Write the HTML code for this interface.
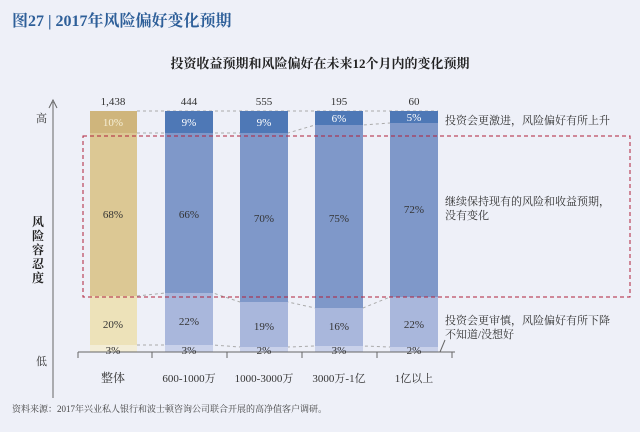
<!DOCTYPE html>
<html><head><meta charset="utf-8"><style>
body{margin:0;width:640px;height:427px;background:#eef0f8;overflow:hidden}
text{font-family:"Liberation Serif","Noto Serif CJK SC",serif}
</style></head><body>
<svg width="640" height="427" xmlns="http://www.w3.org/2000/svg">
<rect width="640" height="427" fill="#eef0f8"/>
<text x="12" y="26" font-size="16" fill="#2e5f99" font-weight="bold">图27 | 2017年风险偏好变化预期</text>
<text x="320" y="68" font-size="13" text-anchor="middle" fill="#222" font-weight="bold">投资收益预期和风险偏好在未来12个月内的变化预期</text>
<!-- dashed connectors -->
<g stroke="#aaa" stroke-dasharray="3,3" fill="none" stroke-width="1">
<polyline points="137,111 438,111"/>
<polyline points="137,133 165,133 213,133 240,133 288,133 315,125 363,125 390,123"/>
<polyline points="137,296 165,293 213,293 240,302 288,302 315,308 363,308 390,297"/>
<polyline points="137,345 165,345 213,345 240,347 288,347 315,346 363,346 390,347"/>
</g>
<!-- bar1 -->
<rect x="90" y="111" width="47" height="22" fill="#cfb57c"/>
<rect x="90" y="133" width="47" height="163" fill="#dcc894"/>
<rect x="90" y="296" width="47" height="49" fill="#ede2b9"/>
<rect x="90" y="345" width="47" height="7" fill="#f3edd6"/>
<!-- bars blue -->
<g>
<rect x="165" y="111" width="48" height="22" fill="#4e78b6"/>
<rect x="165" y="133" width="48" height="160" fill="#7f98c9"/>
<rect x="165" y="293" width="48" height="52" fill="#a9b7dc"/>
<rect x="165" y="345" width="48" height="7" fill="#c9d1ea"/>
<rect x="240" y="111" width="48" height="22" fill="#4e78b6"/>
<rect x="240" y="133" width="48" height="169" fill="#7f98c9"/>
<rect x="240" y="302" width="48" height="45" fill="#a9b7dc"/>
<rect x="240" y="347" width="48" height="5" fill="#c9d1ea"/>
<rect x="315" y="111" width="48" height="14" fill="#4e78b6"/>
<rect x="315" y="125" width="48" height="183" fill="#7f98c9"/>
<rect x="315" y="308" width="48" height="38" fill="#a9b7dc"/>
<rect x="315" y="346" width="48" height="6" fill="#c9d1ea"/>
<rect x="390" y="111" width="48" height="12" fill="#4e78b6"/>
<rect x="390" y="123" width="48" height="174" fill="#7f98c9"/>
<rect x="390" y="297" width="48" height="50" fill="#a9b7dc"/>
<rect x="390" y="347" width="48" height="5" fill="#c9d1ea"/>
</g>
<!-- red box -->
<rect x="83" y="136" width="547" height="161" fill="none" stroke="#b0203a" stroke-dasharray="4,3" stroke-width="1"/>
<!-- axes -->
<line x1="53" y1="102" x2="53" y2="398" stroke="#666"/>
<polyline points="49,108 53,100 57,108" fill="none" stroke="#666"/>
<line x1="78" y1="352" x2="455" y2="352" stroke="#666"/>
<g stroke="#666"><line x1="78" y1="352" x2="78" y2="358"/><line x1="152" y1="352" x2="152" y2="358"/><line x1="227" y1="352" x2="227" y2="358"/><line x1="302" y1="352" x2="302" y2="358"/><line x1="377" y1="352" x2="377" y2="358"/><line x1="452" y1="352" x2="452" y2="358"/></g>
<line x1="445" y1="340" x2="440" y2="352" stroke="#666"/>
<g font-size="11" fill="#333" text-anchor="middle">
<text x="113" y="105">1,438</text><text x="189" y="105">444</text><text x="264" y="105">555</text><text x="339" y="105">195</text><text x="414" y="105">60</text>
<text x="113" y="126" fill="#f6efd6">10%</text><text x="189" y="126" fill="#fff">9%</text><text x="264" y="126" fill="#fff">9%</text><text x="339" y="122" fill="#fff">6%</text><text x="414" y="121" fill="#fff">5%</text>
<text x="113" y="218">68%</text><text x="189" y="218">66%</text><text x="264" y="222">70%</text><text x="339" y="222">75%</text><text x="414" y="213">72%</text>
<text x="113" y="328">20%</text><text x="189" y="325">22%</text><text x="264" y="330">19%</text><text x="339" y="330">16%</text><text x="414" y="328">22%</text>
<text x="113" y="354">3%</text><text x="189" y="354">3%</text><text x="264" y="354">2%</text><text x="339" y="354">3%</text><text x="414" y="354">2%</text>
<text x="113" y="382" font-size="12">整体</text><text x="189" y="382">600-1000万</text><text x="264" y="382">1000-3000万</text><text x="339" y="382">3000万-1亿</text><text x="414" y="382">1亿以上</text>
</g>
<g font-size="11" fill="#333">
<text x="36" y="122">高</text><text x="36" y="365">低</text>
<text x="445" y="124">投资会更激进，风险偏好有所上升</text>
<text x="445" y="205">继续保持现有的风险和收益预期，</text>
<text x="445" y="219">没有变化</text>
<text x="445" y="324">投资会更审慎，风险偏好有所下降</text>
<text x="445" y="338">不知道/没想好</text>
</g>
<g font-size="12" fill="#222" font-weight="bold" text-anchor="middle">
<text x="38" y="226">风</text><text x="38" y="240">险</text><text x="38" y="254">容</text><text x="38" y="268">忍</text><text x="38" y="282">度</text>
</g>
<text x="12" y="412" font-size="9" fill="#444">资料来源：2017年兴业私人银行和波士顿咨询公司联合开展的高净值客户调研。</text>
</svg>
</body></html>
